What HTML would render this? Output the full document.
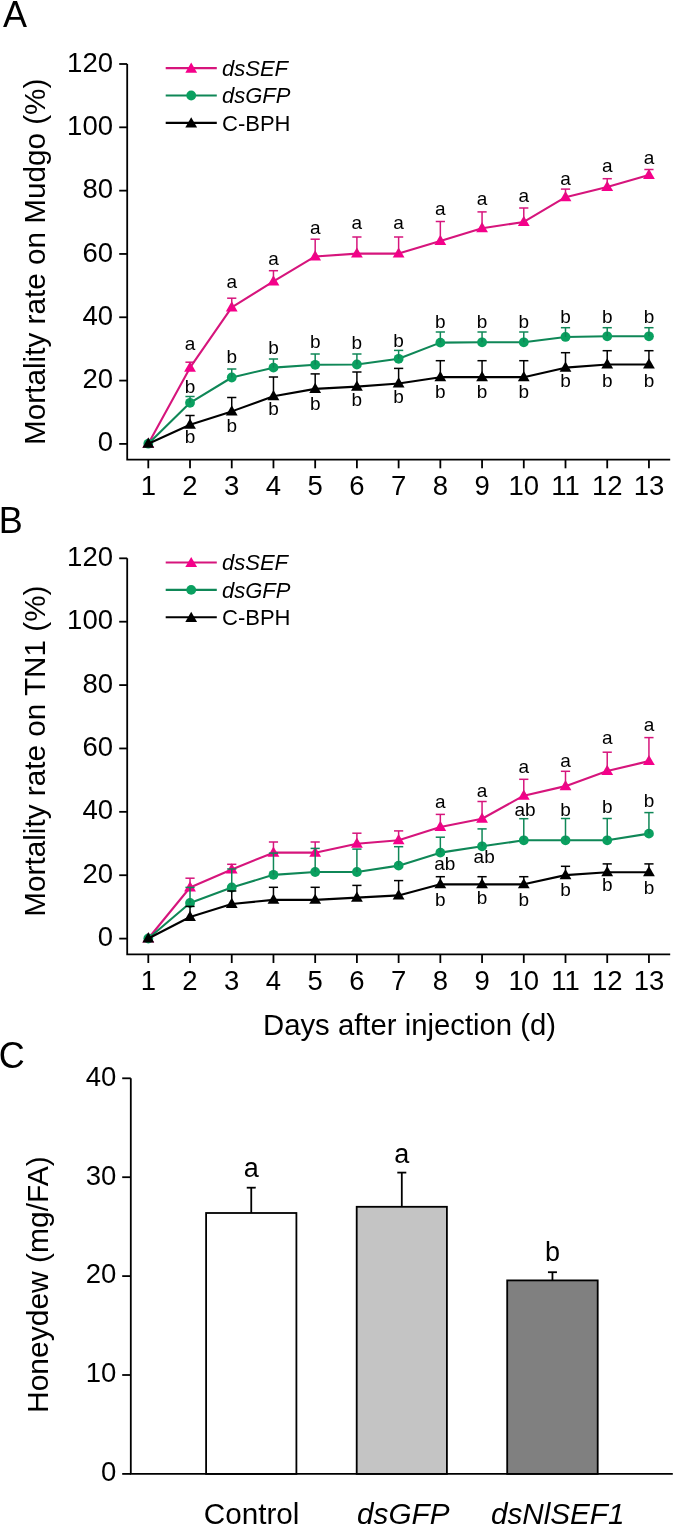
<!DOCTYPE html><html><head><meta charset="utf-8"><style>html,body{margin:0;padding:0;background:#fff;}svg{display:block;will-change:transform;}</style></head><body>
<svg width="675" height="1527" viewBox="0 0 675 1527" font-family="Liberation Sans">
<rect width="675" height="1527" fill="#fff"/>
<text font-family="Liberation Sans" font-size="36" x="3" y="26.5">A</text>
<text font-family="Liberation Sans" font-size="36" x="-1.3" y="533">B</text>
<text font-family="Liberation Sans" font-size="36" x="-1.3" y="1067.5">C</text>
<g stroke="#000" stroke-width="1.8" fill="none">
<polyline points="127.2,64 127.2,459.6 670.2,459.6" stroke-linejoin="miter"/>
<line x1="119.2" y1="443.9" x2="127.2" y2="443.9"/>
<line x1="119.2" y1="380.58" x2="127.2" y2="380.58"/>
<line x1="119.2" y1="317.27" x2="127.2" y2="317.27"/>
<line x1="119.2" y1="253.95" x2="127.2" y2="253.95"/>
<line x1="119.2" y1="190.64" x2="127.2" y2="190.64"/>
<line x1="119.2" y1="127.32" x2="127.2" y2="127.32"/>
<line x1="119.2" y1="64" x2="127.2" y2="64"/>
<line x1="148.3" y1="459.6" x2="148.3" y2="468.3"/>
<line x1="190.02" y1="459.6" x2="190.02" y2="468.3"/>
<line x1="231.74" y1="459.6" x2="231.74" y2="468.3"/>
<line x1="273.46" y1="459.6" x2="273.46" y2="468.3"/>
<line x1="315.18" y1="459.6" x2="315.18" y2="468.3"/>
<line x1="356.9" y1="459.6" x2="356.9" y2="468.3"/>
<line x1="398.62" y1="459.6" x2="398.62" y2="468.3"/>
<line x1="440.34" y1="459.6" x2="440.34" y2="468.3"/>
<line x1="482.06" y1="459.6" x2="482.06" y2="468.3"/>
<line x1="523.78" y1="459.6" x2="523.78" y2="468.3"/>
<line x1="565.5" y1="459.6" x2="565.5" y2="468.3"/>
<line x1="607.22" y1="459.6" x2="607.22" y2="468.3"/>
<line x1="648.94" y1="459.6" x2="648.94" y2="468.3"/>
</g>
<g font-family="Liberation Sans" font-size="27.5" fill="#000">
<text x="113" y="451.45" text-anchor="end">0</text>
<text x="113" y="388.13" text-anchor="end">20</text>
<text x="113" y="324.82" text-anchor="end">40</text>
<text x="113" y="261.5" text-anchor="end">60</text>
<text x="113" y="198.19" text-anchor="end">80</text>
<text x="113" y="134.87" text-anchor="end">100</text>
<text x="113" y="71.55" text-anchor="end">120</text>
<text x="148.3" y="495.1" text-anchor="middle">1</text>
<text x="190.02" y="495.1" text-anchor="middle">2</text>
<text x="231.74" y="495.1" text-anchor="middle">3</text>
<text x="273.46" y="495.1" text-anchor="middle">4</text>
<text x="315.18" y="495.1" text-anchor="middle">5</text>
<text x="356.9" y="495.1" text-anchor="middle">6</text>
<text x="398.62" y="495.1" text-anchor="middle">7</text>
<text x="440.34" y="495.1" text-anchor="middle">8</text>
<text x="482.06" y="495.1" text-anchor="middle">9</text>
<text x="523.78" y="495.1" text-anchor="middle">10</text>
<text x="565.5" y="495.1" text-anchor="middle">11</text>
<text x="607.22" y="495.1" text-anchor="middle">12</text>
<text x="648.94" y="495.1" text-anchor="middle">13</text>
</g>
<text font-family="Liberation Sans" font-size="29.7" transform="translate(45.2,261.75) rotate(-90)" text-anchor="middle">Mortality rate on Mudgo (%)</text>
<polyline points="148.3,443.7 190.02,367.66 231.74,307.46 273.46,281.48 315.18,256.45 356.9,253.6 398.62,253.6 440.34,240.93 482.06,228.26 523.78,221.92 565.5,197.21 607.22,187.07 648.94,175.03" fill="none" stroke="#D6157C" stroke-width="2.1" stroke-linejoin="round"/>
<polygon points="148.3,437.5 142.4,447.7 154.2,447.7" fill="#F5008A"/>
<polygon points="190.02,361.46 184.12,371.66 195.92,371.66" fill="#F5008A"/>
<polygon points="231.74,301.26 225.84,311.46 237.64,311.46" fill="#F5008A"/>
<polygon points="273.46,275.28 267.56,285.48 279.36,285.48" fill="#F5008A"/>
<polygon points="315.18,250.25 309.28,260.45 321.08,260.45" fill="#F5008A"/>
<polygon points="356.9,247.4 351,257.6 362.8,257.6" fill="#F5008A"/>
<polygon points="398.62,247.4 392.72,257.6 404.52,257.6" fill="#F5008A"/>
<polygon points="440.34,234.73 434.44,244.93 446.24,244.93" fill="#F5008A"/>
<polygon points="482.06,222.06 476.16,232.26 487.96,232.26" fill="#F5008A"/>
<polygon points="523.78,215.72 517.88,225.92 529.68,225.92" fill="#F5008A"/>
<polygon points="565.5,191.01 559.6,201.21 571.4,201.21" fill="#F5008A"/>
<polygon points="607.22,180.87 601.32,191.07 613.12,191.07" fill="#F5008A"/>
<polygon points="648.94,168.83 643.04,179.03 654.84,179.03" fill="#F5008A"/>
<line x1="190.02" y1="367.66" x2="190.02" y2="362.2" stroke="#D6157C" stroke-width="1.5"/><line x1="185.42" y1="362.2" x2="194.62" y2="362.2" stroke="#D6157C" stroke-width="1.5"/>
<line x1="231.74" y1="307.46" x2="231.74" y2="298.2" stroke="#D6157C" stroke-width="1.5"/><line x1="227.14" y1="298.2" x2="236.34" y2="298.2" stroke="#D6157C" stroke-width="1.5"/>
<line x1="273.46" y1="281.48" x2="273.46" y2="270.7" stroke="#D6157C" stroke-width="1.5"/><line x1="268.86" y1="270.7" x2="278.06" y2="270.7" stroke="#D6157C" stroke-width="1.5"/>
<line x1="315.18" y1="256.45" x2="315.18" y2="239.2" stroke="#D6157C" stroke-width="1.5"/><line x1="310.58" y1="239.2" x2="319.78" y2="239.2" stroke="#D6157C" stroke-width="1.5"/>
<line x1="356.9" y1="253.6" x2="356.9" y2="237" stroke="#D6157C" stroke-width="1.5"/><line x1="352.3" y1="237" x2="361.5" y2="237" stroke="#D6157C" stroke-width="1.5"/>
<line x1="398.62" y1="253.6" x2="398.62" y2="237" stroke="#D6157C" stroke-width="1.5"/><line x1="394.02" y1="237" x2="403.22" y2="237" stroke="#D6157C" stroke-width="1.5"/>
<line x1="440.34" y1="240.93" x2="440.34" y2="221.5" stroke="#D6157C" stroke-width="1.5"/><line x1="435.74" y1="221.5" x2="444.94" y2="221.5" stroke="#D6157C" stroke-width="1.5"/>
<line x1="482.06" y1="228.26" x2="482.06" y2="211.9" stroke="#D6157C" stroke-width="1.5"/><line x1="477.46" y1="211.9" x2="486.66" y2="211.9" stroke="#D6157C" stroke-width="1.5"/>
<line x1="523.78" y1="221.92" x2="523.78" y2="208" stroke="#D6157C" stroke-width="1.5"/><line x1="519.18" y1="208" x2="528.38" y2="208" stroke="#D6157C" stroke-width="1.5"/>
<line x1="565.5" y1="197.21" x2="565.5" y2="189.1" stroke="#D6157C" stroke-width="1.5"/><line x1="560.9" y1="189.1" x2="570.1" y2="189.1" stroke="#D6157C" stroke-width="1.5"/>
<line x1="607.22" y1="187.07" x2="607.22" y2="178.7" stroke="#D6157C" stroke-width="1.5"/><line x1="602.62" y1="178.7" x2="611.82" y2="178.7" stroke="#D6157C" stroke-width="1.5"/>
<line x1="648.94" y1="175.03" x2="648.94" y2="169.5" stroke="#D6157C" stroke-width="1.5"/><line x1="644.34" y1="169.5" x2="653.54" y2="169.5" stroke="#D6157C" stroke-width="1.5"/>
<polyline points="148.3,443.7 190.02,402.83 231.74,377.48 273.46,367.66 315.18,364.81 356.9,364.49 398.62,358.79 440.34,342.63 482.06,342.31 523.78,342.31 565.5,336.93 607.22,336.29 648.94,336.29" fill="none" stroke="#0F8757" stroke-width="2.1" stroke-linejoin="round"/>
<circle cx="148.3" cy="443.7" r="4.9" fill="#0AA060"/>
<circle cx="190.02" cy="402.83" r="4.9" fill="#0AA060"/>
<circle cx="231.74" cy="377.48" r="4.9" fill="#0AA060"/>
<circle cx="273.46" cy="367.66" r="4.9" fill="#0AA060"/>
<circle cx="315.18" cy="364.81" r="4.9" fill="#0AA060"/>
<circle cx="356.9" cy="364.49" r="4.9" fill="#0AA060"/>
<circle cx="398.62" cy="358.79" r="4.9" fill="#0AA060"/>
<circle cx="440.34" cy="342.63" r="4.9" fill="#0AA060"/>
<circle cx="482.06" cy="342.31" r="4.9" fill="#0AA060"/>
<circle cx="523.78" cy="342.31" r="4.9" fill="#0AA060"/>
<circle cx="565.5" cy="336.93" r="4.9" fill="#0AA060"/>
<circle cx="607.22" cy="336.29" r="4.9" fill="#0AA060"/>
<circle cx="648.94" cy="336.29" r="4.9" fill="#0AA060"/>
<line x1="190.02" y1="402.83" x2="190.02" y2="396.5" stroke="#0F8757" stroke-width="1.5"/><line x1="185.42" y1="396.5" x2="194.62" y2="396.5" stroke="#0F8757" stroke-width="1.5"/>
<line x1="231.74" y1="377.48" x2="231.74" y2="369" stroke="#0F8757" stroke-width="1.5"/><line x1="227.14" y1="369" x2="236.34" y2="369" stroke="#0F8757" stroke-width="1.5"/>
<line x1="273.46" y1="367.66" x2="273.46" y2="359" stroke="#0F8757" stroke-width="1.5"/><line x1="268.86" y1="359" x2="278.06" y2="359" stroke="#0F8757" stroke-width="1.5"/>
<line x1="315.18" y1="364.81" x2="315.18" y2="354" stroke="#0F8757" stroke-width="1.5"/><line x1="310.58" y1="354" x2="319.78" y2="354" stroke="#0F8757" stroke-width="1.5"/>
<line x1="356.9" y1="364.49" x2="356.9" y2="354" stroke="#0F8757" stroke-width="1.5"/><line x1="352.3" y1="354" x2="361.5" y2="354" stroke="#0F8757" stroke-width="1.5"/>
<line x1="398.62" y1="358.79" x2="398.62" y2="350.4" stroke="#0F8757" stroke-width="1.5"/><line x1="394.02" y1="350.4" x2="403.22" y2="350.4" stroke="#0F8757" stroke-width="1.5"/>
<line x1="440.34" y1="342.63" x2="440.34" y2="332" stroke="#0F8757" stroke-width="1.5"/><line x1="435.74" y1="332" x2="444.94" y2="332" stroke="#0F8757" stroke-width="1.5"/>
<line x1="482.06" y1="342.31" x2="482.06" y2="332" stroke="#0F8757" stroke-width="1.5"/><line x1="477.46" y1="332" x2="486.66" y2="332" stroke="#0F8757" stroke-width="1.5"/>
<line x1="523.78" y1="342.31" x2="523.78" y2="332" stroke="#0F8757" stroke-width="1.5"/><line x1="519.18" y1="332" x2="528.38" y2="332" stroke="#0F8757" stroke-width="1.5"/>
<line x1="565.5" y1="336.93" x2="565.5" y2="327.7" stroke="#0F8757" stroke-width="1.5"/><line x1="560.9" y1="327.7" x2="570.1" y2="327.7" stroke="#0F8757" stroke-width="1.5"/>
<line x1="607.22" y1="336.29" x2="607.22" y2="327.7" stroke="#0F8757" stroke-width="1.5"/><line x1="602.62" y1="327.7" x2="611.82" y2="327.7" stroke="#0F8757" stroke-width="1.5"/>
<line x1="648.94" y1="336.29" x2="648.94" y2="327.7" stroke="#0F8757" stroke-width="1.5"/><line x1="644.34" y1="327.7" x2="653.54" y2="327.7" stroke="#0F8757" stroke-width="1.5"/>
<polyline points="148.3,443.7 190.02,424.69 231.74,411.38 273.46,396.18 315.18,388.89 356.9,386.67 398.62,383.5 440.34,377.17 482.06,377.17 523.78,377.17 565.5,367.66 607.22,364.49 648.94,364.49" fill="none" stroke="#000" stroke-width="2.1" stroke-linejoin="round"/>
<polygon points="148.3,437.5 142.4,447.7 154.2,447.7" fill="#000"/>
<polygon points="190.02,418.49 184.12,428.69 195.92,428.69" fill="#000"/>
<polygon points="231.74,405.18 225.84,415.38 237.64,415.38" fill="#000"/>
<polygon points="273.46,389.98 267.56,400.18 279.36,400.18" fill="#000"/>
<polygon points="315.18,382.69 309.28,392.89 321.08,392.89" fill="#000"/>
<polygon points="356.9,380.47 351,390.67 362.8,390.67" fill="#000"/>
<polygon points="398.62,377.3 392.72,387.5 404.52,387.5" fill="#000"/>
<polygon points="440.34,370.97 434.44,381.17 446.24,381.17" fill="#000"/>
<polygon points="482.06,370.97 476.16,381.17 487.96,381.17" fill="#000"/>
<polygon points="523.78,370.97 517.88,381.17 529.68,381.17" fill="#000"/>
<polygon points="565.5,361.46 559.6,371.66 571.4,371.66" fill="#000"/>
<polygon points="607.22,358.29 601.32,368.49 613.12,368.49" fill="#000"/>
<polygon points="648.94,358.29 643.04,368.49 654.84,368.49" fill="#000"/>
<line x1="190.02" y1="424.69" x2="190.02" y2="415.5" stroke="#000" stroke-width="1.5"/><line x1="185.42" y1="415.5" x2="194.62" y2="415.5" stroke="#000" stroke-width="1.5"/>
<line x1="231.74" y1="411.38" x2="231.74" y2="397.5" stroke="#000" stroke-width="1.5"/><line x1="227.14" y1="397.5" x2="236.34" y2="397.5" stroke="#000" stroke-width="1.5"/>
<line x1="273.46" y1="396.18" x2="273.46" y2="377" stroke="#000" stroke-width="1.5"/><line x1="268.86" y1="377" x2="278.06" y2="377" stroke="#000" stroke-width="1.5"/>
<line x1="315.18" y1="388.89" x2="315.18" y2="373.9" stroke="#000" stroke-width="1.5"/><line x1="310.58" y1="373.9" x2="319.78" y2="373.9" stroke="#000" stroke-width="1.5"/>
<line x1="356.9" y1="386.67" x2="356.9" y2="372" stroke="#000" stroke-width="1.5"/><line x1="352.3" y1="372" x2="361.5" y2="372" stroke="#000" stroke-width="1.5"/>
<line x1="398.62" y1="383.5" x2="398.62" y2="368.4" stroke="#000" stroke-width="1.5"/><line x1="394.02" y1="368.4" x2="403.22" y2="368.4" stroke="#000" stroke-width="1.5"/>
<line x1="440.34" y1="377.17" x2="440.34" y2="360.7" stroke="#000" stroke-width="1.5"/><line x1="435.74" y1="360.7" x2="444.94" y2="360.7" stroke="#000" stroke-width="1.5"/>
<line x1="482.06" y1="377.17" x2="482.06" y2="360.7" stroke="#000" stroke-width="1.5"/><line x1="477.46" y1="360.7" x2="486.66" y2="360.7" stroke="#000" stroke-width="1.5"/>
<line x1="523.78" y1="377.17" x2="523.78" y2="360.7" stroke="#000" stroke-width="1.5"/><line x1="519.18" y1="360.7" x2="528.38" y2="360.7" stroke="#000" stroke-width="1.5"/>
<line x1="565.5" y1="367.66" x2="565.5" y2="352.7" stroke="#000" stroke-width="1.5"/><line x1="560.9" y1="352.7" x2="570.1" y2="352.7" stroke="#000" stroke-width="1.5"/>
<line x1="607.22" y1="364.49" x2="607.22" y2="350.7" stroke="#000" stroke-width="1.5"/><line x1="602.62" y1="350.7" x2="611.82" y2="350.7" stroke="#000" stroke-width="1.5"/>
<line x1="648.94" y1="364.49" x2="648.94" y2="350.7" stroke="#000" stroke-width="1.5"/><line x1="644.34" y1="350.7" x2="653.54" y2="350.7" stroke="#000" stroke-width="1.5"/>
<g font-family="Liberation Sans" fill="#000">
<text x="190.02" y="350.2" font-size="19" text-anchor="middle">a</text>
<text x="231.74" y="288.4" font-size="19" text-anchor="middle">a</text>
<text x="273.46" y="265.4" font-size="19" text-anchor="middle">a</text>
<text x="315.18" y="233.7" font-size="19" text-anchor="middle">a</text>
<text x="356.9" y="229.4" font-size="19" text-anchor="middle">a</text>
<text x="398.62" y="229.4" font-size="19" text-anchor="middle">a</text>
<text x="440.34" y="214.8" font-size="19" text-anchor="middle">a</text>
<text x="482.06" y="204.8" font-size="19" text-anchor="middle">a</text>
<text x="523.78" y="201.9" font-size="19" text-anchor="middle">a</text>
<text x="565.5" y="184.8" font-size="19" text-anchor="middle">a</text>
<text x="607.22" y="172.4" font-size="19" text-anchor="middle">a</text>
<text x="648.94" y="163.6" font-size="19" text-anchor="middle">a</text>
</g>
<g font-family="Liberation Sans" fill="#000">
<text x="190.02" y="392.6" font-size="19" text-anchor="middle">b</text>
<text x="231.74" y="363" font-size="19" text-anchor="middle">b</text>
<text x="273.46" y="353.6" font-size="19" text-anchor="middle">b</text>
<text x="315.18" y="348.2" font-size="19" text-anchor="middle">b</text>
<text x="356.9" y="349" font-size="19" text-anchor="middle">b</text>
<text x="398.62" y="346.8" font-size="19" text-anchor="middle">b</text>
<text x="440.34" y="328.3" font-size="19" text-anchor="middle">b</text>
<text x="482.06" y="328.3" font-size="19" text-anchor="middle">b</text>
<text x="523.78" y="328.3" font-size="19" text-anchor="middle">b</text>
<text x="565.5" y="322.8" font-size="19" text-anchor="middle">b</text>
<text x="607.22" y="322.8" font-size="19" text-anchor="middle">b</text>
<text x="648.94" y="322.8" font-size="19" text-anchor="middle">b</text>
</g>
<g font-family="Liberation Sans" fill="#000">
<text x="190.02" y="443.2" font-size="19" text-anchor="middle">b</text>
<text x="231.74" y="431.8" font-size="19" text-anchor="middle">b</text>
<text x="273.46" y="414.8" font-size="19" text-anchor="middle">b</text>
<text x="315.18" y="409.5" font-size="19" text-anchor="middle">b</text>
<text x="356.9" y="405.9" font-size="19" text-anchor="middle">b</text>
<text x="398.62" y="403" font-size="19" text-anchor="middle">b</text>
<text x="440.34" y="397.8" font-size="19" text-anchor="middle">b</text>
<text x="482.06" y="397.8" font-size="19" text-anchor="middle">b</text>
<text x="523.78" y="397.8" font-size="19" text-anchor="middle">b</text>
<text x="565.5" y="386.7" font-size="19" text-anchor="middle">b</text>
<text x="607.22" y="386.7" font-size="19" text-anchor="middle">b</text>
<text x="648.94" y="386.7" font-size="19" text-anchor="middle">b</text>
</g>
<line x1="165.7" y1="68.1" x2="216.8" y2="68.1" stroke="#D6157C" stroke-width="2.1"/>
<polygon points="191.2,62.5 185.3,72.7 197.1,72.7" fill="#F5008A"/>
<text font-family="Liberation Sans" font-size="22" font-style="italic" x="222" y="75.7">dsSEF</text>
<line x1="165.7" y1="95.5" x2="216.8" y2="95.5" stroke="#0F8757" stroke-width="2.1"/>
<circle cx="191.2" cy="95.5" r="4.9" fill="#0AA060"/>
<text font-family="Liberation Sans" font-size="22" font-style="italic" x="222" y="103.1">dsGFP</text>
<line x1="165.7" y1="122.9" x2="216.8" y2="122.9" stroke="#000" stroke-width="2.1"/>
<polygon points="191.2,117.3 185.3,127.5 197.1,127.5" fill="#000"/>
<text font-family="Liberation Sans" font-size="22" x="222" y="130.5">C-BPH</text>
<g stroke="#000" stroke-width="1.8" fill="none">
<polyline points="127.2,558.32 127.2,954.3 670.2,954.3" stroke-linejoin="miter"/>
<line x1="119.2" y1="938.6" x2="127.2" y2="938.6"/>
<line x1="119.2" y1="875.22" x2="127.2" y2="875.22"/>
<line x1="119.2" y1="811.84" x2="127.2" y2="811.84"/>
<line x1="119.2" y1="748.46" x2="127.2" y2="748.46"/>
<line x1="119.2" y1="685.08" x2="127.2" y2="685.08"/>
<line x1="119.2" y1="621.7" x2="127.2" y2="621.7"/>
<line x1="119.2" y1="558.32" x2="127.2" y2="558.32"/>
<line x1="148.3" y1="954.3" x2="148.3" y2="963"/>
<line x1="190.02" y1="954.3" x2="190.02" y2="963"/>
<line x1="231.74" y1="954.3" x2="231.74" y2="963"/>
<line x1="273.46" y1="954.3" x2="273.46" y2="963"/>
<line x1="315.18" y1="954.3" x2="315.18" y2="963"/>
<line x1="356.9" y1="954.3" x2="356.9" y2="963"/>
<line x1="398.62" y1="954.3" x2="398.62" y2="963"/>
<line x1="440.34" y1="954.3" x2="440.34" y2="963"/>
<line x1="482.06" y1="954.3" x2="482.06" y2="963"/>
<line x1="523.78" y1="954.3" x2="523.78" y2="963"/>
<line x1="565.5" y1="954.3" x2="565.5" y2="963"/>
<line x1="607.22" y1="954.3" x2="607.22" y2="963"/>
<line x1="648.94" y1="954.3" x2="648.94" y2="963"/>
</g>
<g font-family="Liberation Sans" font-size="27.5" fill="#000">
<text x="113" y="946.15" text-anchor="end">0</text>
<text x="113" y="882.77" text-anchor="end">20</text>
<text x="113" y="819.39" text-anchor="end">40</text>
<text x="113" y="756.01" text-anchor="end">60</text>
<text x="113" y="692.63" text-anchor="end">80</text>
<text x="113" y="629.25" text-anchor="end">100</text>
<text x="113" y="565.87" text-anchor="end">120</text>
<text x="148.3" y="989.8" text-anchor="middle">1</text>
<text x="190.02" y="989.8" text-anchor="middle">2</text>
<text x="231.74" y="989.8" text-anchor="middle">3</text>
<text x="273.46" y="989.8" text-anchor="middle">4</text>
<text x="315.18" y="989.8" text-anchor="middle">5</text>
<text x="356.9" y="989.8" text-anchor="middle">6</text>
<text x="398.62" y="989.8" text-anchor="middle">7</text>
<text x="440.34" y="989.8" text-anchor="middle">8</text>
<text x="482.06" y="989.8" text-anchor="middle">9</text>
<text x="523.78" y="989.8" text-anchor="middle">10</text>
<text x="565.5" y="989.8" text-anchor="middle">11</text>
<text x="607.22" y="989.8" text-anchor="middle">12</text>
<text x="648.94" y="989.8" text-anchor="middle">13</text>
</g>
<text font-family="Liberation Sans" font-size="29.7" transform="translate(45.2,751.1) rotate(-90)" text-anchor="middle">Mortality rate on TN1 (%)</text>
<polyline points="148.3,938.5 190.02,887.5 231.74,869.45 273.46,852.66 315.18,852.66 356.9,843.79 398.62,840.31 440.34,827 482.06,818.77 523.78,795.65 565.5,786.14 607.22,770.94 648.94,761.12" fill="none" stroke="#D6157C" stroke-width="2.1" stroke-linejoin="round"/>
<polygon points="148.3,932.3 142.4,942.5 154.2,942.5" fill="#F5008A"/>
<polygon points="190.02,881.3 184.12,891.5 195.92,891.5" fill="#F5008A"/>
<polygon points="231.74,863.25 225.84,873.45 237.64,873.45" fill="#F5008A"/>
<polygon points="273.46,846.46 267.56,856.66 279.36,856.66" fill="#F5008A"/>
<polygon points="315.18,846.46 309.28,856.66 321.08,856.66" fill="#F5008A"/>
<polygon points="356.9,837.59 351,847.79 362.8,847.79" fill="#F5008A"/>
<polygon points="398.62,834.11 392.72,844.31 404.52,844.31" fill="#F5008A"/>
<polygon points="440.34,820.8 434.44,831 446.24,831" fill="#F5008A"/>
<polygon points="482.06,812.57 476.16,822.77 487.96,822.77" fill="#F5008A"/>
<polygon points="523.78,789.45 517.88,799.65 529.68,799.65" fill="#F5008A"/>
<polygon points="565.5,779.94 559.6,790.14 571.4,790.14" fill="#F5008A"/>
<polygon points="607.22,764.74 601.32,774.94 613.12,774.94" fill="#F5008A"/>
<polygon points="648.94,754.92 643.04,765.12 654.84,765.12" fill="#F5008A"/>
<line x1="190.02" y1="887.5" x2="190.02" y2="878.2" stroke="#D6157C" stroke-width="1.5"/><line x1="185.42" y1="878.2" x2="194.62" y2="878.2" stroke="#D6157C" stroke-width="1.5"/>
<line x1="231.74" y1="869.45" x2="231.74" y2="864.3" stroke="#D6157C" stroke-width="1.5"/><line x1="227.14" y1="864.3" x2="236.34" y2="864.3" stroke="#D6157C" stroke-width="1.5"/>
<line x1="273.46" y1="852.66" x2="273.46" y2="842" stroke="#D6157C" stroke-width="1.5"/><line x1="268.86" y1="842" x2="278.06" y2="842" stroke="#D6157C" stroke-width="1.5"/>
<line x1="315.18" y1="852.66" x2="315.18" y2="842" stroke="#D6157C" stroke-width="1.5"/><line x1="310.58" y1="842" x2="319.78" y2="842" stroke="#D6157C" stroke-width="1.5"/>
<line x1="356.9" y1="843.79" x2="356.9" y2="833.2" stroke="#D6157C" stroke-width="1.5"/><line x1="352.3" y1="833.2" x2="361.5" y2="833.2" stroke="#D6157C" stroke-width="1.5"/>
<line x1="398.62" y1="840.31" x2="398.62" y2="830.9" stroke="#D6157C" stroke-width="1.5"/><line x1="394.02" y1="830.9" x2="403.22" y2="830.9" stroke="#D6157C" stroke-width="1.5"/>
<line x1="440.34" y1="827" x2="440.34" y2="814.4" stroke="#D6157C" stroke-width="1.5"/><line x1="435.74" y1="814.4" x2="444.94" y2="814.4" stroke="#D6157C" stroke-width="1.5"/>
<line x1="482.06" y1="818.77" x2="482.06" y2="801.5" stroke="#D6157C" stroke-width="1.5"/><line x1="477.46" y1="801.5" x2="486.66" y2="801.5" stroke="#D6157C" stroke-width="1.5"/>
<line x1="523.78" y1="795.65" x2="523.78" y2="779.3" stroke="#D6157C" stroke-width="1.5"/><line x1="519.18" y1="779.3" x2="528.38" y2="779.3" stroke="#D6157C" stroke-width="1.5"/>
<line x1="565.5" y1="786.14" x2="565.5" y2="771.3" stroke="#D6157C" stroke-width="1.5"/><line x1="560.9" y1="771.3" x2="570.1" y2="771.3" stroke="#D6157C" stroke-width="1.5"/>
<line x1="607.22" y1="770.94" x2="607.22" y2="752.2" stroke="#D6157C" stroke-width="1.5"/><line x1="602.62" y1="752.2" x2="611.82" y2="752.2" stroke="#D6157C" stroke-width="1.5"/>
<line x1="648.94" y1="761.12" x2="648.94" y2="737.6" stroke="#D6157C" stroke-width="1.5"/><line x1="644.34" y1="737.6" x2="653.54" y2="737.6" stroke="#D6157C" stroke-width="1.5"/>
<polyline points="148.3,938.5 190.02,903.02 231.74,887.5 273.46,874.83 315.18,871.98 356.9,871.98 398.62,865.65 440.34,852.66 482.06,846.33 523.78,840.31 565.5,840.31 607.22,840.31 648.94,833.66" fill="none" stroke="#0F8757" stroke-width="2.1" stroke-linejoin="round"/>
<circle cx="148.3" cy="938.5" r="4.9" fill="#0AA060"/>
<circle cx="190.02" cy="903.02" r="4.9" fill="#0AA060"/>
<circle cx="231.74" cy="887.5" r="4.9" fill="#0AA060"/>
<circle cx="273.46" cy="874.83" r="4.9" fill="#0AA060"/>
<circle cx="315.18" cy="871.98" r="4.9" fill="#0AA060"/>
<circle cx="356.9" cy="871.98" r="4.9" fill="#0AA060"/>
<circle cx="398.62" cy="865.65" r="4.9" fill="#0AA060"/>
<circle cx="440.34" cy="852.66" r="4.9" fill="#0AA060"/>
<circle cx="482.06" cy="846.33" r="4.9" fill="#0AA060"/>
<circle cx="523.78" cy="840.31" r="4.9" fill="#0AA060"/>
<circle cx="565.5" cy="840.31" r="4.9" fill="#0AA060"/>
<circle cx="607.22" cy="840.31" r="4.9" fill="#0AA060"/>
<circle cx="648.94" cy="833.66" r="4.9" fill="#0AA060"/>
<line x1="190.02" y1="903.02" x2="190.02" y2="887.4" stroke="#0F8757" stroke-width="1.5"/><line x1="185.42" y1="887.4" x2="194.62" y2="887.4" stroke="#0F8757" stroke-width="1.5"/>
<line x1="231.74" y1="887.5" x2="231.74" y2="869" stroke="#0F8757" stroke-width="1.5"/><line x1="227.14" y1="869" x2="236.34" y2="869" stroke="#0F8757" stroke-width="1.5"/>
<line x1="273.46" y1="874.83" x2="273.46" y2="853.1" stroke="#0F8757" stroke-width="1.5"/><line x1="268.86" y1="853.1" x2="278.06" y2="853.1" stroke="#0F8757" stroke-width="1.5"/>
<line x1="315.18" y1="871.98" x2="315.18" y2="848.4" stroke="#0F8757" stroke-width="1.5"/><line x1="310.58" y1="848.4" x2="319.78" y2="848.4" stroke="#0F8757" stroke-width="1.5"/>
<line x1="356.9" y1="871.98" x2="356.9" y2="849.1" stroke="#0F8757" stroke-width="1.5"/><line x1="352.3" y1="849.1" x2="361.5" y2="849.1" stroke="#0F8757" stroke-width="1.5"/>
<line x1="398.62" y1="865.65" x2="398.62" y2="846.7" stroke="#0F8757" stroke-width="1.5"/><line x1="394.02" y1="846.7" x2="403.22" y2="846.7" stroke="#0F8757" stroke-width="1.5"/>
<line x1="440.34" y1="852.66" x2="440.34" y2="837.2" stroke="#0F8757" stroke-width="1.5"/><line x1="435.74" y1="837.2" x2="444.94" y2="837.2" stroke="#0F8757" stroke-width="1.5"/>
<line x1="482.06" y1="846.33" x2="482.06" y2="828.9" stroke="#0F8757" stroke-width="1.5"/><line x1="477.46" y1="828.9" x2="486.66" y2="828.9" stroke="#0F8757" stroke-width="1.5"/>
<line x1="523.78" y1="840.31" x2="523.78" y2="818.7" stroke="#0F8757" stroke-width="1.5"/><line x1="519.18" y1="818.7" x2="528.38" y2="818.7" stroke="#0F8757" stroke-width="1.5"/>
<line x1="565.5" y1="840.31" x2="565.5" y2="818.5" stroke="#0F8757" stroke-width="1.5"/><line x1="560.9" y1="818.5" x2="570.1" y2="818.5" stroke="#0F8757" stroke-width="1.5"/>
<line x1="607.22" y1="840.31" x2="607.22" y2="818.5" stroke="#0F8757" stroke-width="1.5"/><line x1="602.62" y1="818.5" x2="611.82" y2="818.5" stroke="#0F8757" stroke-width="1.5"/>
<line x1="648.94" y1="833.66" x2="648.94" y2="812.6" stroke="#0F8757" stroke-width="1.5"/><line x1="644.34" y1="812.6" x2="653.54" y2="812.6" stroke="#0F8757" stroke-width="1.5"/>
<polyline points="148.3,938.5 190.02,916.96 231.74,903.97 273.46,899.86 315.18,899.86 356.9,897.64 398.62,895.42 440.34,884.34 482.06,884.34 523.78,884.34 565.5,875.15 607.22,872.3 648.94,872.3" fill="none" stroke="#000" stroke-width="2.1" stroke-linejoin="round"/>
<polygon points="148.3,932.3 142.4,942.5 154.2,942.5" fill="#000"/>
<polygon points="190.02,910.76 184.12,920.96 195.92,920.96" fill="#000"/>
<polygon points="231.74,897.77 225.84,907.97 237.64,907.97" fill="#000"/>
<polygon points="273.46,893.66 267.56,903.86 279.36,903.86" fill="#000"/>
<polygon points="315.18,893.66 309.28,903.86 321.08,903.86" fill="#000"/>
<polygon points="356.9,891.44 351,901.64 362.8,901.64" fill="#000"/>
<polygon points="398.62,889.22 392.72,899.42 404.52,899.42" fill="#000"/>
<polygon points="440.34,878.14 434.44,888.34 446.24,888.34" fill="#000"/>
<polygon points="482.06,878.14 476.16,888.34 487.96,888.34" fill="#000"/>
<polygon points="523.78,878.14 517.88,888.34 529.68,888.34" fill="#000"/>
<polygon points="565.5,868.95 559.6,879.15 571.4,879.15" fill="#000"/>
<polygon points="607.22,866.1 601.32,876.3 613.12,876.3" fill="#000"/>
<polygon points="648.94,866.1 643.04,876.3 654.84,876.3" fill="#000"/>
<line x1="190.02" y1="916.96" x2="190.02" y2="906.4" stroke="#000" stroke-width="1.5"/><line x1="185.42" y1="906.4" x2="194.62" y2="906.4" stroke="#000" stroke-width="1.5"/>
<line x1="231.74" y1="903.97" x2="231.74" y2="891" stroke="#000" stroke-width="1.5"/><line x1="227.14" y1="891" x2="236.34" y2="891" stroke="#000" stroke-width="1.5"/>
<line x1="273.46" y1="899.86" x2="273.46" y2="887.3" stroke="#000" stroke-width="1.5"/><line x1="268.86" y1="887.3" x2="278.06" y2="887.3" stroke="#000" stroke-width="1.5"/>
<line x1="315.18" y1="899.86" x2="315.18" y2="887.3" stroke="#000" stroke-width="1.5"/><line x1="310.58" y1="887.3" x2="319.78" y2="887.3" stroke="#000" stroke-width="1.5"/>
<line x1="356.9" y1="897.64" x2="356.9" y2="885.4" stroke="#000" stroke-width="1.5"/><line x1="352.3" y1="885.4" x2="361.5" y2="885.4" stroke="#000" stroke-width="1.5"/>
<line x1="398.62" y1="895.42" x2="398.62" y2="880.6" stroke="#000" stroke-width="1.5"/><line x1="394.02" y1="880.6" x2="403.22" y2="880.6" stroke="#000" stroke-width="1.5"/>
<line x1="440.34" y1="884.34" x2="440.34" y2="876.7" stroke="#000" stroke-width="1.5"/><line x1="435.74" y1="876.7" x2="444.94" y2="876.7" stroke="#000" stroke-width="1.5"/>
<line x1="482.06" y1="884.34" x2="482.06" y2="876.7" stroke="#000" stroke-width="1.5"/><line x1="477.46" y1="876.7" x2="486.66" y2="876.7" stroke="#000" stroke-width="1.5"/>
<line x1="523.78" y1="884.34" x2="523.78" y2="876.7" stroke="#000" stroke-width="1.5"/><line x1="519.18" y1="876.7" x2="528.38" y2="876.7" stroke="#000" stroke-width="1.5"/>
<line x1="565.5" y1="875.15" x2="565.5" y2="866.3" stroke="#000" stroke-width="1.5"/><line x1="560.9" y1="866.3" x2="570.1" y2="866.3" stroke="#000" stroke-width="1.5"/>
<line x1="607.22" y1="872.3" x2="607.22" y2="863.9" stroke="#000" stroke-width="1.5"/><line x1="602.62" y1="863.9" x2="611.82" y2="863.9" stroke="#000" stroke-width="1.5"/>
<line x1="648.94" y1="872.3" x2="648.94" y2="863.9" stroke="#000" stroke-width="1.5"/><line x1="644.34" y1="863.9" x2="653.54" y2="863.9" stroke="#000" stroke-width="1.5"/>
<g font-family="Liberation Sans" fill="#000">
<text x="440.34" y="807.6" font-size="19" text-anchor="middle">a</text>
<text x="482.06" y="796.5" font-size="19" text-anchor="middle">a</text>
<text x="523.78" y="773.3" font-size="19" text-anchor="middle">a</text>
<text x="565.5" y="766.7" font-size="19" text-anchor="middle">a</text>
<text x="607.22" y="744.4" font-size="19" text-anchor="middle">a</text>
<text x="648.94" y="730.6" font-size="19" text-anchor="middle">a</text>
</g>
<g font-family="Liberation Sans" fill="#000">
<text x="444.74" y="869.6" font-size="19" text-anchor="middle">ab</text>
<text x="484.16" y="863.1" font-size="19" text-anchor="middle">ab</text>
<text x="525.08" y="816.3" font-size="19" text-anchor="middle">ab</text>
<text x="565.5" y="815.7" font-size="19" text-anchor="middle">b</text>
<text x="607.22" y="812.6" font-size="19" text-anchor="middle">b</text>
<text x="648.94" y="806.5" font-size="19" text-anchor="middle">b</text>
</g>
<g font-family="Liberation Sans" fill="#000">
<text x="440.34" y="905.7" font-size="19" text-anchor="middle">b</text>
<text x="482.06" y="903.9" font-size="19" text-anchor="middle">b</text>
<text x="523.78" y="905.7" font-size="19" text-anchor="middle">b</text>
<text x="565.5" y="895.9" font-size="19" text-anchor="middle">b</text>
<text x="607.22" y="890.7" font-size="19" text-anchor="middle">b</text>
<text x="648.94" y="894.4" font-size="19" text-anchor="middle">b</text>
</g>
<line x1="165.7" y1="562.5" x2="216.8" y2="562.5" stroke="#D6157C" stroke-width="2.1"/>
<polygon points="191.2,556.9 185.3,567.1 197.1,567.1" fill="#F5008A"/>
<text font-family="Liberation Sans" font-size="22" font-style="italic" x="222" y="570.1">dsSEF</text>
<line x1="165.7" y1="589.9" x2="216.8" y2="589.9" stroke="#0F8757" stroke-width="2.1"/>
<circle cx="191.2" cy="589.9" r="4.9" fill="#0AA060"/>
<text font-family="Liberation Sans" font-size="22" font-style="italic" x="222" y="597.5">dsGFP</text>
<line x1="165.7" y1="617.3" x2="216.8" y2="617.3" stroke="#000" stroke-width="2.1"/>
<polygon points="191.2,611.7 185.3,621.9 197.1,621.9" fill="#000"/>
<text font-family="Liberation Sans" font-size="22" x="222" y="624.9">C-BPH</text>
<text font-family="Liberation Sans" font-size="29.3" x="263" y="1035.3">Days after injection (d)</text>
<g stroke="#000" stroke-width="1.8" fill="none">
<polyline points="130.8,1078.3 130.8,1473.9 672.8,1473.9"/>
<line x1="122.2" y1="1473.9" x2="130.8" y2="1473.9"/>
<line x1="122.2" y1="1375" x2="130.8" y2="1375"/>
<line x1="122.2" y1="1276.1" x2="130.8" y2="1276.1"/>
<line x1="122.2" y1="1177.2" x2="130.8" y2="1177.2"/>
<line x1="122.2" y1="1078.3" x2="130.8" y2="1078.3"/>
</g>
<g font-family="Liberation Sans" font-size="27.5">
<text x="116.3" y="1481.2" text-anchor="end">0</text>
<text x="116.3" y="1382.3" text-anchor="end">10</text>
<text x="116.3" y="1283.4" text-anchor="end">20</text>
<text x="116.3" y="1184.5" text-anchor="end">30</text>
<text x="116.3" y="1085.6" text-anchor="end">40</text>
</g>
<line x1="251.25" y1="1213" x2="251.25" y2="1187.7" stroke="#000" stroke-width="1.8"/>
<line x1="246.75" y1="1187.7" x2="255.75" y2="1187.7" stroke="#000" stroke-width="1.8"/>
<rect x="206.1" y="1213" width="90.3" height="260.9" fill="#FFFFFF" stroke="#000" stroke-width="1.8"/>
<text font-family="Liberation Sans" font-size="27" x="251.25" y="1177" text-anchor="middle">a</text>
<line x1="401.8" y1="1206.8" x2="401.8" y2="1172.6" stroke="#000" stroke-width="1.8"/>
<line x1="397.3" y1="1172.6" x2="406.3" y2="1172.6" stroke="#000" stroke-width="1.8"/>
<rect x="356.7" y="1206.8" width="90.2" height="267.1" fill="#C4C4C4" stroke="#000" stroke-width="1.8"/>
<text font-family="Liberation Sans" font-size="27" x="401.8" y="1163" text-anchor="middle">a</text>
<line x1="552.45" y1="1280.4" x2="552.45" y2="1272.2" stroke="#000" stroke-width="1.8"/>
<line x1="547.95" y1="1272.2" x2="556.95" y2="1272.2" stroke="#000" stroke-width="1.8"/>
<rect x="507.2" y="1280.4" width="90.5" height="193.5" fill="#808080" stroke="#000" stroke-width="1.8"/>
<text font-family="Liberation Sans" font-size="27" x="552.45" y="1261.4" text-anchor="middle">b</text>
<text font-family="Liberation Sans" font-size="30" transform="translate(48.2,1284.6) rotate(-90)" text-anchor="middle">Honeydew (mg/FA)</text>
<text font-family="Liberation Sans" font-size="29.7" x="251.6" y="1523.5" text-anchor="middle">Control</text>
<text font-family="Liberation Sans" font-size="29.7" font-style="italic" x="403.3" y="1523.5" text-anchor="middle">dsGFP</text>
<text font-family="Liberation Sans" font-size="29.7" font-style="italic" x="557.7" y="1523.5" text-anchor="middle">dsNlSEF1</text>
</svg></body></html>
